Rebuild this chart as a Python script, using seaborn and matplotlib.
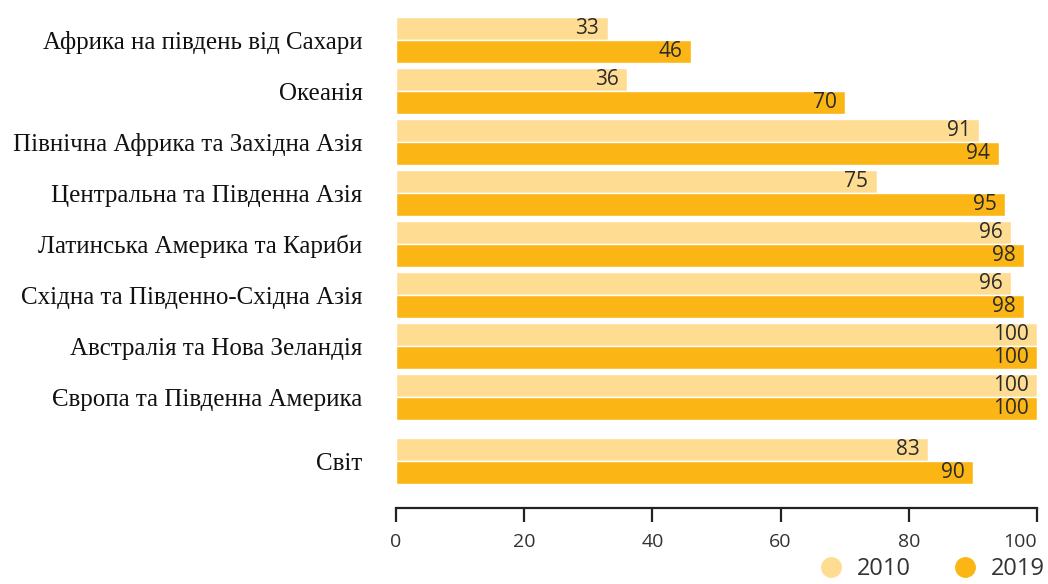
import numpy as np
import pandas as pd
import matplotlib
matplotlib.use('Agg')
import matplotlib.pyplot as plt
import seaborn as sns
from matplotlib.lines import Line2D

# Data
regions = [
    'Африка на південь від Сахари',
    'Океанія',
    'Північна Африка та Західна Азія',
    'Центральна та Південна Азія',
    'Латинська Америка та Кариби',
    'Східна та Південно-Східна Азія',
    'Австралія та Нова Зеландія',
    'Європа та Південна Америка',
    'Світ',
]
years = ['2010', '2019']
values_2010 = [33, 36, 91, 75, 96, 96, 100, 100, 83]
values_2019 = [46, 70, 94, 95, 98, 98, 100, 100, 90]
colors = ['#FEDC92', '#FBB615']
xticks = [0, 20, 40, 60, 80, 100]

# row positions, small extra gap before the world total
pos = np.arange(len(regions), dtype=float)
pos[-1] += 0.25

df = pd.DataFrame({
    'pos': np.concatenate([pos, pos]),
    'year': np.repeat(years, len(regions)),
    'value': values_2010 + values_2019,
})

sns.set_style('white')
plt.rcParams['font.family'] = ['Open Sans', 'DejaVu Sans']

fig = plt.figure(figsize=(10.48, 5.84), dpi=100)
ax = fig.add_axes([0.3779, 0.130, 0.6116, 0.845])

sns.barplot(data=df, x='value', y='pos', hue='year', orient='h', native_scale=True,
            palette=colors, width=0.9, saturation=1, errorbar=None,
            legend=False, ax=ax)

# value labels inside the bar ends
for cont in ax.containers:
    for bar in cont:
        w = bar.get_width()
        ax.annotate(f'{w:.0f}', (w, bar.get_y() + bar.get_height() / 2),
                    xytext=(-6, 0), textcoords='offset points',
                    ha='right', va='center', fontsize=15, color='#2b2b2b')

ax.set_xlim(0, 100)
ax.set_ylim(9.17, -0.5)
ax.set_xticks(xticks)
ax.set_yticks(pos)
ax.set_yticklabels(regions, fontfamily='Liberation Serif', fontsize=18, color='#111111')
ax.set_xlabel('')
ax.set_ylabel('')

for side in ['left', 'right', 'top']:
    ax.spines[side].set_visible(False)
ax.spines['bottom'].set_linewidth(1.6)
ax.spines['bottom'].set_color('#222222')
ax.tick_params(axis='y', length=0, pad=24)
ax.tick_params(axis='x', bottom=True, length=10, width=1.6, color='#222222',
               labelsize=14, labelcolor='#333333', pad=8)
ax.get_xticklabels()[-1].set_horizontalalignment('right')

handles = [Line2D([], [], marker='o', linestyle='', markersize=14,
                  markerfacecolor=c, markeredgecolor=c) for c in colors]
fig.legend(handles, years, loc='lower right', bbox_to_anchor=(1.02, -0.035),
           ncol=2, frameon=False, fontsize=17, labelcolor='#333333',
           handletextpad=0.1, columnspacing=1.3, borderaxespad=0.6)

fig.savefig('out.png', dpi=100)
